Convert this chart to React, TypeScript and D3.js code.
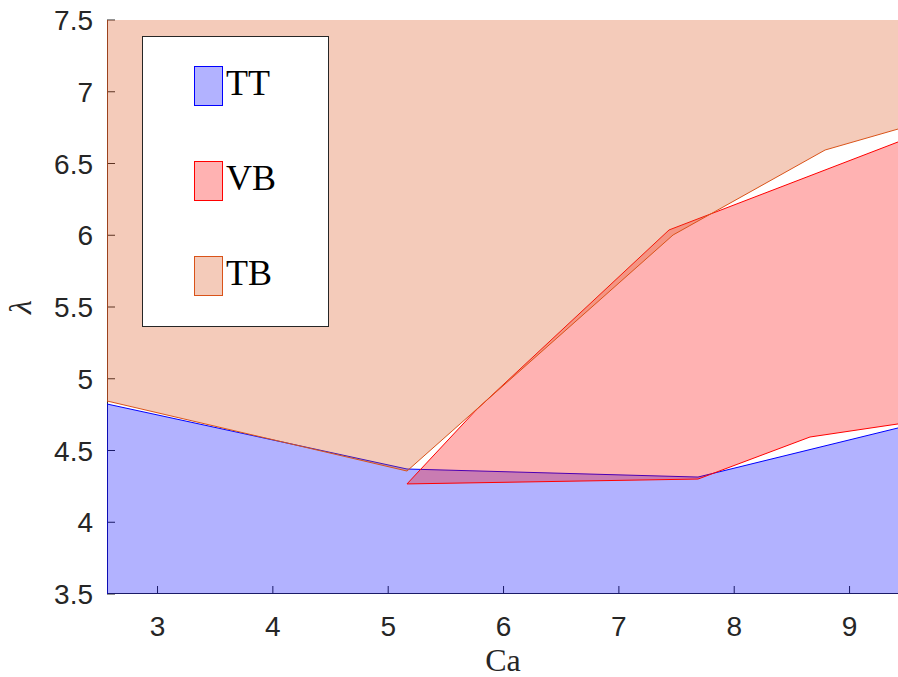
import React from "react";
import * as d3 from "d3";

const xTicks = [3, 4, 5, 6, 7, 8, 9];
const yTicks = [3.5, 4, 4.5, 5, 5.5, 6, 6.5, 7, 7.5];

// TT region: upper boundary (region below it)
const ttX = [2.562, 5.163, 7.686, 9.42];
const ttY = [4.824, 4.371, 4.315, 4.657];

// VB region: upper and lower boundaries
const vbUpperX = [5.163, 5.762, 7.435, 9.42];
const vbUpperY = [4.267, 4.782, 6.037, 6.65];
const vbLowerX = [5.163, 7.686, 8.657, 9.42];
const vbLowerY = [4.267, 4.301, 4.594, 4.685];

// TB region: lower boundary (region above it)
const tbX = [2.562, 5.163, 7.47, 8.788, 9.42];
const tbY = [4.845, 4.357, 6.002, 6.594, 6.74];

const legendNames = ["TT", "VB", "TB"];
const colors = ["#0000ff", "#ff0000", "#d95319"];

const W = 898;
const H = 677;
const L = 107, R = 898, T = 20, B = 594;

export default function App() {
  const x = d3.scaleLinear().domain([2.562, 9.42]).range([L, R]);
  const y = d3.scaleLinear().domain([3.5, 7.5]).range([B, T]);
  const ext = 9.6;

  const pts = (xs: number[], ys: number[]) => xs.map((v, i) => [v, ys[i]] as [number, number]);
  const line = d3
    .line<[number, number]>()
    .x((d) => x(d[0]))
    .y((d) => y(d[1]));
  const closed = (p: [number, number][]) => line(p) + "Z";

  const ttPts = pts(ttX, ttY);
  const ttPoly: [number, number][] = [
    [ttX[0], 3.3],
    ...ttPts,
    [ext, ttY[ttY.length - 1] + 0.1],
    [ext, 3.3],
  ];

  const up = pts(vbUpperX, vbUpperY);
  const lo = pts(vbLowerX, vbLowerY);
  const vbPoly: [number, number][] = [
    ...up,
    [ext, vbUpperY[vbUpperY.length - 1] + 0.05],
    [ext, vbLowerY[vbLowerY.length - 1] + 0.02],
    ...lo.slice().reverse(),
  ];

  const tbPts = pts(tbX, tbY);
  const tbPoly: [number, number][] = [
    [tbX[0], 7.8],
    ...tbPts,
    [ext, tbY[tbY.length - 1] + 0.05],
    [ext, 7.8],
  ];

  const polys = [ttPoly, vbPoly, tbPoly];
  const axisColor = "#262626";
  const tickFont = "'Liberation Sans', Arial, Helvetica, sans-serif";
  const serif = "'Liberation Serif', 'Times New Roman', serif";

  const legX = 142, legY = 36, legW = 186, legH = 290;
  const swY = [66, 161, 256];

  return (
    <svg
      width={W}
      height={H}
      style={{ position: "absolute", left: 0, top: 0, background: "#fff" }}
    >
      <defs>
        <clipPath id="plotclip">
          <rect x={L} y={T} width={R - L} height={B - T} />
        </clipPath>
      </defs>
      <rect x={0} y={0} width={W} height={H} fill="#fff" />

      {/* axes (drawn beneath translucent patches) */}
      <g stroke={axisColor} strokeWidth={1} fill="none">
        <line x1={L + 0.5} y1={T} x2={L + 0.5} y2={B} />
        <line x1={L} y1={B - 0.5} x2={R} y2={B - 0.5} />
        {xTicks.map((t) => (
          <line key={"xt" + t} x1={x(t)} x2={x(t)} y1={B} y2={B - 8} />
        ))}
        {yTicks.map((t) => (
          <line key={"yt" + t} x1={L} x2={L + 8} y1={y(t)} y2={y(t)} />
        ))}
      </g>

      <g clipPath="url(#plotclip)">
        {polys.map((p, i) => (
          <path
            key={i}
            d={closed(p)}
            fill={colors[i]}
            fillOpacity={0.3}
            stroke={colors[i]}
            strokeWidth={1}
          />
        ))}
      </g>

      {/* tick labels */}
      <g fill={axisColor} fontFamily={tickFont} fontSize={28}>
        {xTicks.map((t) => (
          <text key={"xl" + t} x={x(t)} y={636} textAnchor="middle">
            {String(t)}
          </text>
        ))}
        {yTicks.map((t) => (
          <text key={"yl" + t} x={93} y={y(t) + 10} textAnchor="end">
            {String(t)}
          </text>
        ))}
      </g>

      {/* axis labels */}
      <text x={503} y={671} textAnchor="middle" fontFamily={serif} fontSize={32} fill={axisColor}>
        Ca
      </text>
      <text
        transform={`translate(31,${y(5.5)}) rotate(-90)`}
        textAnchor="middle"
        fontFamily={serif}
        fontStyle="italic"
        fontSize={32}
        fill={axisColor}
      >
        λ
      </text>

      {/* legend */}
      <rect x={legX + 0.5} y={legY + 0.5} width={legW} height={legH} fill="#fff" stroke="#262626" strokeWidth={1} />
      {legendNames.map((n, i) => (
        <g key={n}>
          <rect
            x={194.5}
            y={swY[i] + 0.5}
            width={28}
            height={39}
            fill={colors[i]}
            fillOpacity={0.3}
            stroke={colors[i]}
            strokeWidth={1}
          />
          <text x={226} y={swY[i] + 29} fontFamily={serif} fontSize={36} fill="#000">
            {n}
          </text>
        </g>
      ))}
    </svg>
  );
}
